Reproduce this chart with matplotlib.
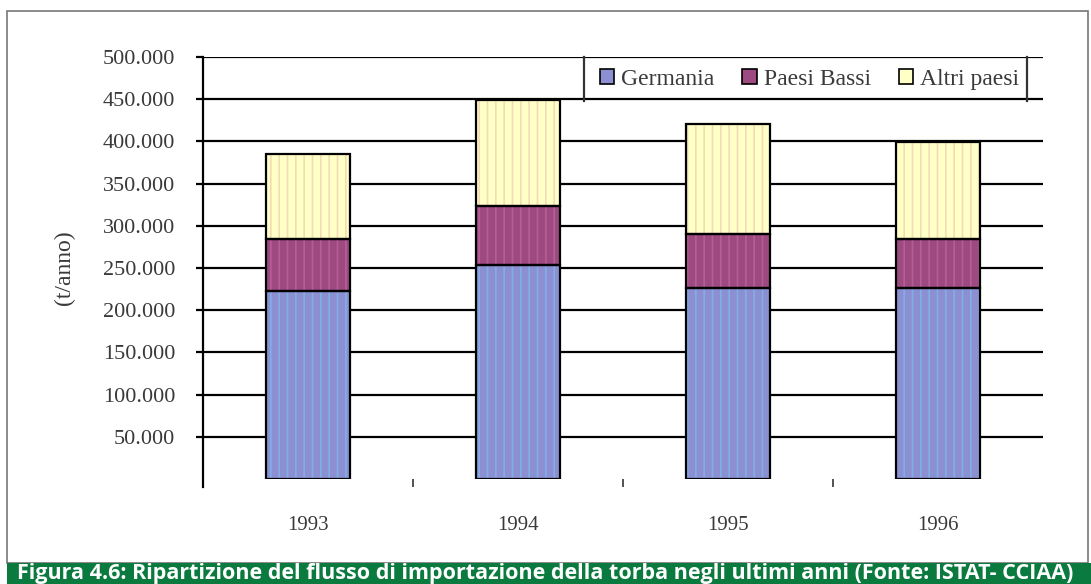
import matplotlib
matplotlib.use("Agg")
import matplotlib.pyplot as plt
from matplotlib.patches import Rectangle
from matplotlib.lines import Line2D
import numpy as np

years = ["1993", "1994", "1995", "1996"]
germania = [223000, 254000, 226000, 226000]
paesi_bassi = [61000, 70000, 64000, 58000]
altri_paesi = [101000, 125000, 131000, 115000]
series_names = ["Germania", "Paesi Bassi", "Altri paesi"]
yticks = [50000, 100000, 150000, 200000, 250000, 300000, 350000, 400000, 450000, 500000]
ytick_labels = ["50.000", "100.000", "150.000", "200.000", "250.000", "300.000",
                "350.000", "400.000", "450.000", "500.000"]
caption = "Figura 4.6: Ripartizione del flusso di importazione della torba negli ultimi anni (Fonte: ISTAT- CCIAA)"

colors = ["#8c90d2", "#9c4a80", "#ffffc6"]
stripe_colors = ["#80aee6", "#b85c98", "#f2dcb8"]
serif = ["Liberation Serif", "DejaVu Serif"]
txtcol = "#3a3a3a"

plt.rcParams["hatch.linewidth"] = 1.2

W, H = 1091, 584
fig = plt.figure(figsize=(W / 100, H / 100), dpi=100)

def fx(px):
    return px / W

def fy(py):
    return 1 - py / H

# outer frame
fig.add_artist(Rectangle((fx(7), fy(563)), fx(1088) - fx(7), fy(11) - fy(563),
                         transform=fig.transFigure, fill=False, edgecolor="#777777", lw=1.2))
# caption band
fig.add_artist(Rectangle((fx(7), 0), 1 - fx(7), fy(563),
                         transform=fig.transFigure, facecolor="#0b7a3e", edgecolor="none"))
fig.text(fx(17), fy(574), caption, color="white", fontsize=15.5, fontweight="bold",
         family="Open Sans", va="center", ha="left")

ax = fig.add_axes([fx(203), fy(479), fx(1043) - fx(203), fy(57) - fy(479)])
x = np.arange(len(years))
width = 0.4
bottoms = np.zeros(len(years))
handles = []
for vals, col, scol, name in zip([germania, paesi_bassi, altri_paesi], colors, stripe_colors, series_names):
    ax.bar(x, vals, width, bottom=bottoms, color=col, edgecolor="none", linewidth=0,
           zorder=3, label=name)
    ax.bar(x, vals, width, bottom=bottoms, facecolor="none", edgecolor=scol, linewidth=0,
           hatch="||", zorder=3.5)
    ax.bar(x, vals, width, bottom=bottoms, facecolor="none", edgecolor="black", linewidth=1.6,
           zorder=4)
    handles.append(Rectangle((0, 0), 1, 1, facecolor=col, edgecolor="black", linewidth=1.2))
    bottoms = bottoms + np.array(vals)

ax.set_xlim(-0.5, 3.5)
ax.set_ylim(0, 500000)
ax.set_yticks(yticks)
ax.set_yticklabels(ytick_labels, family=serif, fontsize=16, color=txtcol)
ax.yaxis.grid(True, color="black", linewidth=1.6, zorder=0)
ax.tick_params(axis="y", direction="out", length=5, width=1.6, pad=15)

ax.set_xticks([0.5, 1.5, 2.5])
ax.set_xticklabels([])
ax.tick_params(axis="x", which="major", direction="out", length=6, width=1.2, pad=0, color="#333333")
ax.set_xticks(x, minor=True)
ax.set_xticklabels(years, minor=True, family=serif, fontsize=15, color=txtcol)
ax.tick_params(axis="x", which="minor", length=0, pad=27)

for s in ["top", "right", "bottom"]:
    ax.spines[s].set_visible(False)
ax.spines["left"].set_linewidth(1.6)
ax.spines["left"].set_bounds(-9000, 500000)
ax.set_axisbelow(True)

ax.set_ylabel("(t/anno)", family=serif, fontsize=17, color=txtcol, labelpad=20)

leg = ax.legend(handles=handles, labels=series_names, loc="upper right", bbox_to_anchor=(fx(1036), fy(52)),
                bbox_transform=fig.transFigure, ncol=3, frameon=False,
                prop={"family": serif, "size": 17}, handlelength=0.6, handleheight=0.6,
                handletextpad=0.3, columnspacing=1.2, borderaxespad=0.3)
for t in leg.get_texts():
    t.set_color(txtcol)
for xp in (584, 1027):
    fig.add_artist(Line2D([fx(xp), fx(xp)], [fy(57), fy(101)], transform=fig.transFigure,
                          color="#333333", lw=1.6))

fig.savefig("out.png", dpi=100)
